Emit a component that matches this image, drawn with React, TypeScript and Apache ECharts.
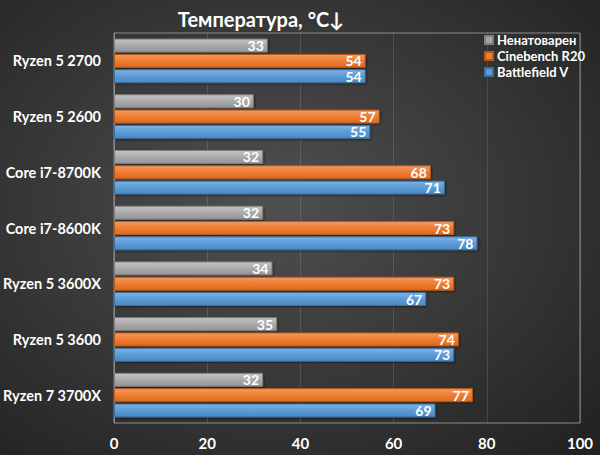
import React, { useEffect, useRef } from "react";
import * as echarts from "echarts";

const categories = [
  "Ryzen 5 2700",
  "Ryzen 5 2600",
  "Core i7-8700K",
  "Core i7-8600K",
  "Ryzen 5 3600X",
  "Ryzen 5 3600",
  "Ryzen 7 3700X",
];
const idleValues = [33, 30, 32, 32, 34, 35, 32];
const cinebenchValues = [54, 57, 68, 73, 73, 74, 77];
const battlefieldValues = [54, 55, 71, 78, 67, 73, 69];
const seriesNames = ["Ненатоварен", "Cinebench R20", "Battlefield V"];
const xTicks = { min: 0, max: 100, interval: 20 };

const FONT = "Lato, 'Noto Sans', 'DejaVu Sans', sans-serif";
const COLORS = ["#a5a5a5", "#ed7d31", "#5b9bd5"];

function grad(top: string, mid: string, bottom: string) {
  return new echarts.graphic.LinearGradient(0, 0, 0, 1, [
    { offset: 0, color: top },
    { offset: 0.5, color: mid },
    { offset: 1, color: bottom },
  ]);
}

export default function App() {
  const ref = useRef<HTMLDivElement>(null);
  useEffect(() => {
    document.body.style.margin = "0";
    const chart = echarts.init(ref.current!, undefined, { renderer: "svg" });
    const label = {
      show: true,
      position: "insideRight",
      distance: 4,
      color: "#ffffff",
      fontFamily: FONT,
      fontWeight: "bold",
      fontSize: 14,
      lineHeight: 10,
    };
    const mk = (name: string, data: number[], colors: string[], border: string) => ({
      name,
      type: "bar",
      data,
      barCategoryGap: "20%",
      barGap: "10%",
      label,
      itemStyle: {
        color: grad(colors[0], colors[1], colors[2]),
        borderColor: border,
        borderWidth: 1,
        shadowColor: "rgba(0,0,0,0.5)",
        shadowBlur: 2,
        shadowOffsetX: 1,
        shadowOffsetY: 1,
      },
      emphasis: { disabled: true },
    });
    chart.setOption({
      animation: false,
      backgroundColor: new echarts.graphic.RadialGradient(0.45, 0.45, 0.75, [
        { offset: 0, color: "#505050" },
        { offset: 1, color: "#222222" },
      ]),
      color: COLORS,
      title: {
        text: "Температура, °C↓",
        left: 256,
        textAlign: "center",
        top: 4,
        textStyle: { color: "#ffffff", fontFamily: FONT, fontWeight: "bold", fontSize: 20 },
      },
      legend: {
        data: seriesNames.map((n, i) => ({ name: n, itemStyle: { color: COLORS[i] } })),
        orient: "vertical",
        right: 15,
        top: 33,
        padding: 0,
        icon: "rect",
        itemWidth: 8,
        itemHeight: 8,
        itemGap: 2,
        textStyle: {
          color: "#ffffff",
          fontFamily: FONT,
          fontWeight: "bold",
          fontSize: 13,
          lineHeight: 14,
          padding: [0, 0, 0, -1],
        },
      },
      grid: {
        left: 113,
        right: 20,
        top: 33,
        bottom: 32,
        show: true,
        borderColor: "#8c8c8c",
        borderWidth: 1,
        backgroundColor: "transparent",
      },
      xAxis: {
        type: "value",
        min: xTicks.min,
        max: xTicks.max,
        interval: xTicks.interval,
        axisLine: { show: false },
        axisTick: { show: false },
        splitLine: { lineStyle: { color: "rgba(255,255,255,0.12)" } },
        axisLabel: { color: "#ffffff", fontFamily: FONT, fontWeight: "bold", fontSize: 15, margin: 12 },
      },
      yAxis: {
        type: "category",
        data: categories,
        inverse: true,
        axisLine: { show: true, lineStyle: { color: "#8c8c8c" } },
        axisTick: { show: false },
        axisLabel: { color: "#ffffff", fontFamily: FONT, fontWeight: "bold", fontSize: 14.5, margin: 13 },
      },
      series: [
        mk(seriesNames[0], idleValues, ["#c4c4c4", "#aaaaaa", "#959595"], "#7f7f7f"),
        mk(seriesNames[1], cinebenchValues, ["#f59a5e", "#ef7d32", "#dc6a1f"], "#b85a1c"),
        mk(seriesNames[2], battlefieldValues, ["#7db3e6", "#5b9bd5", "#4a88c4"], "#3d6f9e"),
      ],
    });
    return () => chart.dispose();
  }, []);
  return <div ref={ref} style={{ width: 600, height: 455 }} />;
}
